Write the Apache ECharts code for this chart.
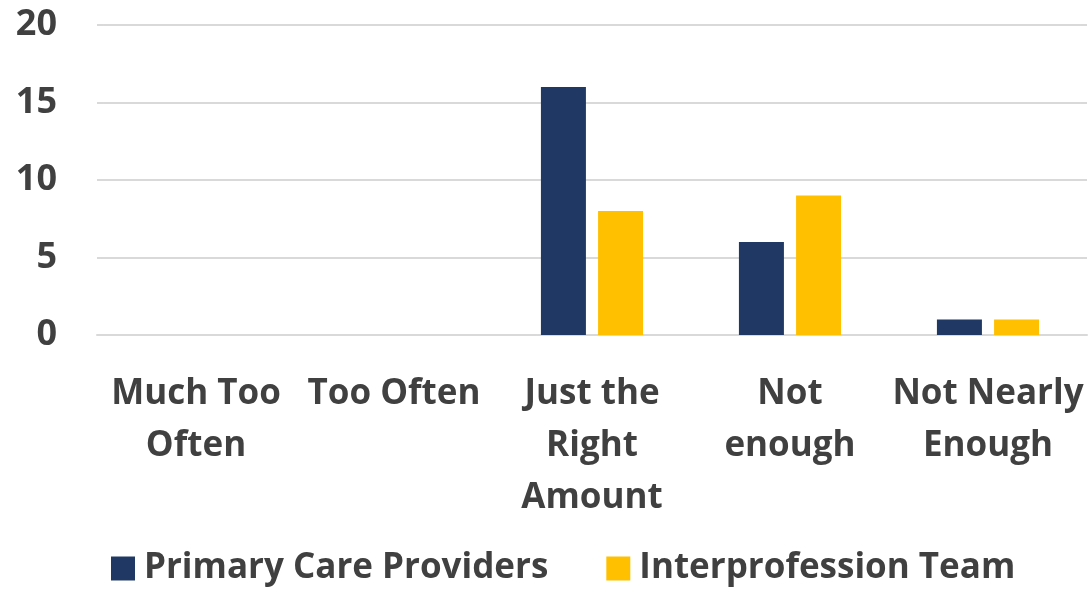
<!DOCTYPE html>
<html><head><meta charset="utf-8">
<script src="https://cdn.jsdelivr.net/npm/echarts@6/dist/echarts.min.js"></script>
<style>html,body{margin:0;padding:0;background:#fff}#c{width:1089px;height:590px}</style>
</head><body><div id="c"></div>
<script>
const categories = ["Much Too\nOften", "Too Often", "Just the\nRight\nAmount", "Not\nenough", "Not Nearly\nEnough"];
const seriesNames = ["Primary Care Providers", "Interprofession Team"];
const primaryCare = [0, 0, 16, 6, 1];
const interprofession = [0, 0, 8, 9, 1];
const yTicks = [0, 5, 10, 15, 20];

const font = "Open Sans";
const txt = "#404040";
const chart = echarts.init(document.getElementById('c'));
chart.setOption({
  animation: false,
  grid: {left: 97, right: 2, top: 25, bottom: 255, containLabel: false},
  legend: {
    top: 546, left: 106, itemWidth: 24, itemHeight: 24, itemGap: 58,
    icon: 'rect',
    textStyle: {fontFamily: font, fontWeight: 'bold', fontSize: 35, color: txt, padding: [0,0,0,4]},
    data: seriesNames
  },
  xAxis: {
    type: 'category', data: categories,
    axisLine: {lineStyle: {color: '#d9d9d9', width: 2}},
    axisTick: {show: false},
    axisLabel: {interval: 0, margin: 33, fontFamily: font, fontWeight: 'bold', fontSize: 35, color: txt, lineHeight: 52}
  },
  yAxis: {
    type: 'value', min: 0, max: 20, interval: 5,
    axisLine: {show: false}, axisTick: {show: false},
    splitLine: {lineStyle: {color: '#d9d9d9', width: 2}},
    axisLabel: {margin: 40, fontFamily: font, fontWeight: 'bold', fontSize: 36, color: txt,
      formatter: v => yTicks.includes(v) ? String(v) : ''}
  },
  series: [
    {name: seriesNames[0], type: 'bar', data: primaryCare, barWidth: 45, barGap: '27%', itemStyle: {color: '#1F3864'}},
    {name: seriesNames[1], type: 'bar', data: interprofession, barWidth: 45, itemStyle: {color: '#FFC000'}}
  ]
});
</script></body></html>
